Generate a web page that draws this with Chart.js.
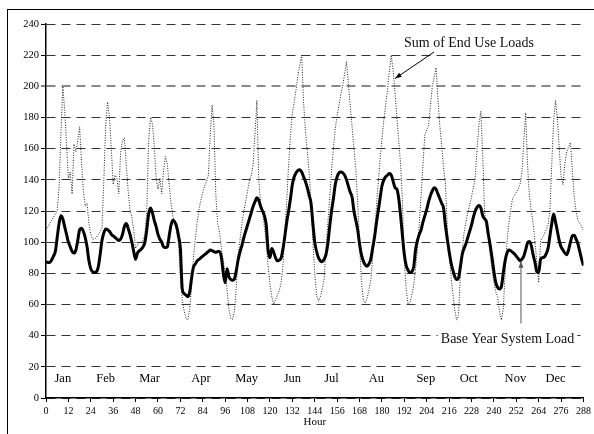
<!DOCTYPE html>
<html>
<head>
<meta charset="utf-8">
<script src="https://cdn.jsdelivr.net/npm/chart.js@4.4.1/dist/chart.umd.min.js"></script>
<style>
    html, body { margin: 0; padding: 0; background: #fff; }
    #wrap { position: relative; width: 594px; height: 434px; overflow: hidden; }
    #frame { position: absolute; left: 7px; top: 9px; width: 700px; height: 500px;
             border-left: 1.5px solid #000; border-top: 1.5px solid #000; }
    #chart { position: absolute; left: 0; top: 0; }
</style>
</head>
<body>
<div id="wrap">
    <div id="frame"></div>
    <canvas id="chart" width="594" height="434"></canvas>
</div>
<script>
// hours of the 12 typical days (24 h each)
const hours = Array.from({ length: 289 }, (_, i) => i);

const monthNames = ['Jan', 'Feb', 'Mar', 'Apr', 'May', 'Jun', 'Jul', 'Au', 'Sep', 'Oct', 'Nov', 'Dec'];
const monthLabelHours = [9, 32, 55.5, 83, 107.5, 132, 153, 177, 203.5, 226.5, 251.5, 273];

const yTicks = { min: 0, max: 240, step: 20 };
const xTicks = { min: 0, max: 288, step: 12 };

// Base Year System Load
const baseLoad = [
    87.5, 87, 87, 88.5, 91, 94, 103, 112, 117, 115, 110, 105, 100, 97, 94, 93, 95, 101, 108, 109, 107, 103, 97, 88,
    83, 81, 80.5, 81, 84, 92, 101, 106, 108.5, 108, 107, 105, 104, 103, 102, 101, 102, 105, 110, 112, 109, 105, 100, 94,
    89, 93, 94.5, 95.5, 97, 100, 108, 118, 122, 119, 114, 110, 105, 102, 100, 97, 96.5, 97, 104, 111, 114, 113, 110, 104,
    96, 70, 67, 66, 65, 68, 77, 84, 86, 88, 89, 90, 91, 92, 93, 94, 95, 94.5, 94, 93.5, 94, 94, 90, 80,
    74, 83, 78, 76, 75.5, 76.5, 82, 89, 94, 98, 103, 107, 111, 115, 119, 123, 126, 128.5, 127, 123, 120, 117, 111, 95,
    90, 96, 93.5, 90, 88, 88.5, 90, 96, 104, 113, 120, 128, 137, 142, 144.5, 146, 146.5, 145, 142, 139, 135, 130, 125, 112,
    100, 94, 90, 88, 87.5, 89, 92, 99, 110, 120, 128, 137, 142, 144.5, 145, 144.5, 143, 140, 136, 132, 129, 120, 114, 108,
    99, 92, 88, 85.5, 84.5, 86, 89, 96, 103, 112, 120, 128, 136, 140, 142, 143, 144, 143, 139, 135, 134, 128, 117, 104,
    92, 85, 82, 80.5, 81, 84, 95, 101, 105, 108, 113, 117, 121, 126, 130, 133, 135, 134, 131, 128, 125, 122, 111, 102,
    94, 87, 82, 78, 76, 77, 84, 92, 96, 99, 103, 107, 111, 116, 120, 122.5, 123.5, 122, 117, 115, 113, 105, 98, 90,
    81, 74, 71, 70, 71.5, 80, 88, 93, 95, 94.5, 93.5, 92.5, 91, 89.5, 88, 89, 91, 95, 99.5, 100.5, 98, 92, 87, 81,
    80.5, 89, 90, 90.5, 92.5, 96, 104, 112, 118, 113, 107, 101, 97, 95, 93, 92, 95, 100, 104, 104.5, 102, 99, 94, 89,
    85
];

// Sum of End Use Loads
const endUseSum = [
    108, 110, 112, 114, 116, 118, 120, 135, 170, 200, 185, 163, 141, 145, 131, 163, 158, 165, 174, 152, 133, 123, 125, 112,
    105, 102, 102, 103, 105, 107, 109, 140, 176, 190, 180, 160, 137, 143, 141, 131, 158, 165, 167, 150, 133, 121, 116, 108,
    96, 98, 100, 100, 101, 105, 120, 165, 180, 176, 162, 141, 134, 141, 131, 146, 155, 150, 137, 125, 117, 112, 107, 99,
    77, 63, 56, 51, 50, 57, 72, 90, 102, 113, 121, 127, 132, 136, 139, 143, 169, 188, 175, 130, 112, 106, 96, 88,
    80, 70, 57, 51, 50.5, 56, 72, 92, 102, 112, 120, 126, 133, 139, 143, 150, 170, 191, 140, 125, 120, 110, 100, 85,
    73, 65, 60, 63, 66, 69, 74, 85, 108, 127, 150, 169, 183, 190, 198, 207, 214, 220, 190, 172, 158, 145, 125, 100,
    80, 66, 62, 65, 70, 76, 95, 112, 128, 146, 160, 173, 181, 188, 195, 201, 208, 216, 202, 188, 174, 160, 147, 125,
    100, 75, 63, 61, 64, 69, 75, 90, 105, 122, 138, 153, 166, 178, 188, 198, 210, 220, 210, 196, 180, 165, 150, 125,
    88, 70, 60, 61, 66, 72, 83, 95, 112, 130, 150, 169, 172, 175, 188, 200, 206, 212, 192, 175, 162, 148, 138, 110,
    92, 78, 67, 57, 50, 53, 78, 95, 106, 113, 119, 124, 129, 135, 142, 160, 176, 184, 156, 120, 108, 102, 92, 82,
    74, 68, 65, 55, 50, 57, 80, 100, 112, 121, 128, 130, 132, 134, 137, 145, 165, 183, 150, 130, 120, 112, 100, 87,
    74, 101, 103, 105, 108, 111, 120, 150, 178, 191, 180, 160, 142, 137, 150, 158, 161, 164, 146, 130, 120, 114, 112, 110,
    107
];

const serif = '"Liberation Serif", "Times New Roman", serif';

// month names inside the plot and the two labelled arrows
const monthLevel = 12.5;
const callouts = [
    { text: 'Sum of End Use Loads', at: [226.6, 227.8], from: [207.9, 222], to: [187, 205], color: '#000', box: false },
    { text: 'Base Year System Load', at: [247.3, 37.5], from: [254.5, 47.8], to: [254.5, 87.8], color: '#555', box: true }
];

const textPlugin = {
    id: 'textPlugin',
    afterDatasetsDraw(chart) {
        const { ctx, scales: { x, y } } = chart;
        ctx.save();
        ctx.fillStyle = '#000';
        ctx.textAlign = 'center';
        ctx.textBaseline = 'middle';
        ctx.font = '12.5px ' + serif;
        monthNames.forEach((m, i) => {
            ctx.fillText(m, x.getPixelForValue(monthLabelHours[i]), y.getPixelForValue(monthLevel));
        });

        ctx.font = '14px ' + serif;
        callouts.forEach(c => {
            const tx = x.getPixelForValue(c.at[0]), ty = y.getPixelForValue(c.at[1]);
            if (c.box) {
                const w = ctx.measureText(c.text).width;
                ctx.fillStyle = '#fff';
                ctx.fillRect(tx - w / 2 - 3, ty - 8, w + 6, 16);
            }
            ctx.fillStyle = '#111';
            ctx.fillText(c.text, tx, ty);
            const x1 = x.getPixelForValue(c.from[0]), y1 = y.getPixelForValue(c.from[1]);
            const x2 = x.getPixelForValue(c.to[0]), y2 = y.getPixelForValue(c.to[1]);
            const ang = Math.atan2(y2 - y1, x2 - x1);
            ctx.strokeStyle = c.color;
            ctx.fillStyle = c.color;
            ctx.lineWidth = 1;
            ctx.beginPath();
            ctx.moveTo(x1, y1);
            ctx.lineTo(x2, y2);
            ctx.stroke();
            ctx.beginPath();
            ctx.moveTo(x2, y2);
            ctx.lineTo(x2 - 7 * Math.cos(ang - 0.35), y2 - 7 * Math.sin(ang - 0.35));
            ctx.lineTo(x2 - 7 * Math.cos(ang + 0.35), y2 - 7 * Math.sin(ang + 0.35));
            ctx.closePath();
            ctx.fill();
        });
        ctx.restore();
    }
};

new Chart(document.getElementById('chart'), {
    type: 'line',
    data: {
        datasets: [
            {
                label: 'Base Year System Load',
                data: hours.map((h, i) => ({ x: h, y: baseLoad[i] })),
                borderColor: '#000',
                borderWidth: 3,
                pointRadius: 0,
                cubicInterpolationMode: 'monotone',
                order: 0
            },
            {
                label: 'Sum of End Use Loads',
                data: hours.map((h, i) => ({ x: h, y: endUseSum[i] })),
                borderColor: '#222',
                borderWidth: 1,
                borderDash: [1, 1.5],
                pointRadius: 0,
                tension: 0,
                order: 1
            }
        ]
    },
    options: {
        responsive: false,
        animation: false,
        layout: { padding: { top: 24, right: 9, left: 0, bottom: 0 } },
        plugins: { legend: { display: false }, tooltip: { enabled: false } },
        scales: {
            x: {
                type: 'linear',
                min: xTicks.min,
                max: xTicks.max,
                afterFit: s => { s.height = 36; },
                ticks: {
                    stepSize: xTicks.step,
                    autoSkip: false,
                    maxRotation: 0,
                    padding: 3,
                    color: '#000',
                    font: { family: serif, size: 10 }
                },
                grid: { drawOnChartArea: false, drawTicks: true, tickLength: 4, tickColor: '#000' },
                border: { display: true, color: '#000', width: 1.5 },
                title: {
                    display: true,
                    text: 'Hour',
                    color: '#000',
                    font: { family: serif, size: 11 },
                    padding: { top: 0, bottom: 5 }
                }
            },
            y: {
                min: yTicks.min,
                max: yTicks.max,
                afterFit: s => { s.width = 46; },
                ticks: {
                    stepSize: yTicks.step,
                    padding: 2,
                    color: '#000',
                    font: { family: serif, size: 10.5 }
                },
                grid: {
                    color: c => c.tick && c.tick.value === 200 ? '#8a8a8a' : '#333',
                    lineWidth: c => c.tick && c.tick.value === 200 ? 2 : 1,
                    tickLength: 5,
                    tickColor: '#000',
                    tickWidth: 1
                },
                border: { display: true, color: '#000', width: 1.5, dash: [9, 6] }
            }
        }
    },
    plugins: [textPlugin]
});
</script>
</body>
</html>
